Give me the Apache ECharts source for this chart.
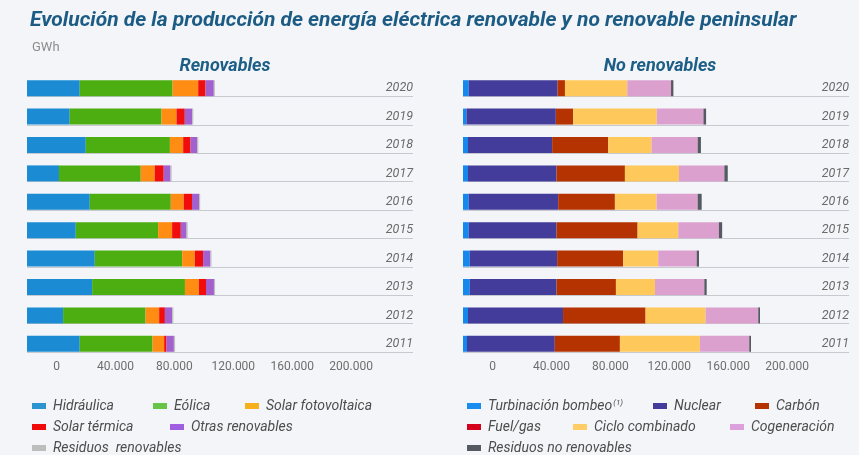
<!DOCTYPE html>
<html>
<head>
<meta charset="utf-8">
<script src="https://cdn.jsdelivr.net/npm/echarts@6/dist/echarts.min.js"></script>
<style>
  html, body { margin: 0; padding: 0; background: #f3f5f9; }
  #chart { width: 859px; height: 455px; }
</style>
</head>
<body>
<div id="chart"></div>
<script>
// Years, bottom to top
const years = ['2011', '2012', '2013', '2014', '2015', '2016', '2017', '2018', '2019', '2020'];

// Renewable generation (GWh)
const hidraulica        = [35800, 24500, 44200, 46000, 33100, 42600, 21700, 39900, 29000, 35800];
const eolica            = [49400, 56000, 63000, 59300, 55900, 55000, 55500, 57100, 62300, 63000];
const solarFotovoltaica = [7900, 9200, 9500, 8600, 9500, 8800, 9500, 9000, 10200, 17400];
const solarTermica      = [1600, 3900, 4800, 5600, 5900, 5600, 6100, 5000, 5600, 5000];
const otrasRenovables   = [5000, 5000, 5400, 5000, 3900, 4800, 4600, 4500, 5000, 5600];
const residuosRenov     = [800, 750, 750, 700, 750, 750, 750, 800, 750, 700];

// Non-renewable generation (GWh)
const turbinacionBombeo = [2700, 3400, 4600, 4600, 3900, 3900, 3400, 3400, 2300, 3900];
const nuclear           = [59600, 64500, 58900, 59300, 59600, 60700, 60100, 57100, 60700, 60300];
const carbon            = [44200, 56000, 40300, 44800, 55000, 38500, 46400, 38000, 11800, 5000];
const fuelGas           = [0, 0, 0, 0, 0, 0, 0, 0, 0, 0];
const cicloCombinado    = [54300, 40800, 26500, 23800, 27600, 28300, 36700, 29500, 56700, 42300];
const cogeneracion      = [33500, 35700, 33500, 26100, 27600, 27900, 30800, 31300, 31700, 29700];
const residuosNoRenov   = [1200, 1200, 1600, 1600, 2200, 2700, 2300, 2200, 1800, 1600];

// Axis ticks shown under each panel
const tickStep = 40000;
const tickMaxShown = 200000;

const FONT = '"Roboto", "Noto Sans", sans-serif';

const renewableSeries = [
  { name: 'Hidráulica', data: hidraulica, color: '#1b8bd4', legend: '#2e94d0' },
  { name: 'Eólica', data: eolica, color: '#4cae10', legend: '#68c446' },
  { name: 'Solar fotovoltaica', data: solarFotovoltaica, color: '#ff8d14', legend: '#f5b01c' },
  { name: 'Solar térmica', data: solarTermica, color: '#f20d0d', legend: '#f00a0a' },
  { name: 'Otras renovables', data: otrasRenovables, color: '#a360cf', legend: '#a05ee0' },
  { name: 'Residuos  renovables', data: residuosRenov, color: '#bdbdbd', legend: '#bdbdbd' }
];
const nonRenewableSeries = [
  { name: 'Turbinación bombeo', data: turbinacionBombeo, color: '#1588ee', legend: '#1a8cf0' },
  { name: 'Nuclear', data: nuclear, color: '#433c9a', legend: '#433c9a' },
  { name: 'Carbón', data: carbon, color: '#b53300', legend: '#b53300' },
  { name: 'Fuel/gas', data: fuelGas, color: '#d4001c', legend: '#d4001c' },
  { name: 'Ciclo combinado', data: cicloCombinado, color: '#ffc85a', legend: '#ffcc66' },
  { name: 'Cogeneración', data: cogeneracion, color: '#dca0cf', legend: '#dca0dc' },
  { name: 'Residuos no renovables', data: residuosNoRenov, color: '#555a62', legend: '#555a62' }
];

// Legend placement: [series name, left px, row]
const legendPlacement = [
  ['Hidráulica', 27, 0], ['Eólica', 148, 0], ['Solar fotovoltaica', 240, 0],
  ['Solar térmica', 27, 1], ['Otras renovables', 165, 1],
  ['Residuos  renovables', 27, 2],
  ['Turbinación bombeo', 462, 0], ['Nuclear', 648, 0], ['Carbón', 750, 0],
  ['Fuel/gas', 462, 1], ['Ciclo combinado', 568, 1], ['Cogeneración', 725, 1],
  ['Residuos no renovables', 462, 2]
];
const legendRowTop = [394, 415, 436];

const thousands = v => String(v).replace(/\B(?=(\d{3})+(?!\d))/g, '.');

const gridTop = 74, gridHeight = 284;
const grids = [
  { left: 27, top: gridTop, width: 386, height: gridHeight },
  { left: 463, top: gridTop, width: 386, height: gridHeight }
];
const axisMax = 262000;

function valueAxis(gridIndex) {
  return {
    type: 'value', gridIndex, min: 0, max: axisMax, interval: tickStep,
    axisLine: { show: false }, axisTick: { show: false }, splitLine: { show: false },
    axisLabel: {
      color: '#6e6e6e', fontFamily: FONT, fontSize: 12, margin: 3,
      padding: [0, 0, 0, 59],
      formatter: v => (v <= tickMaxShown ? thousands(v) : '')
    }
  };
}
function categoryAxis(gridIndex) {
  return {
    type: 'category', gridIndex, data: years, position: 'right',
    axisLine: { show: false }, axisTick: { show: false }, splitLine: { show: false },
    axisLabel: {
      inside: true, color: '#6a6a6a', fontFamily: FONT, fontStyle: 'italic',
      fontSize: 12.5, margin: 0, verticalAlign: 'middle'
    },
    z: 5
  };
}

// Thin rule under each bar row, running to the panel's right edge
function rowRules(axisIndex) {
  return {
    type: 'custom', xAxisIndex: axisIndex, yAxisIndex: axisIndex, z: 1,
    silent: true, legendHoverLink: false,
    data: years.map((y, i) => [0, i]),
    renderItem(params, api) {
      const p = api.coord([0, api.value(1)]);
      const cs = params.coordSys;
      const y = Math.round(p[1] + 8) + 0.5;
      return {
        type: 'line',
        shape: { x1: p[0], y1: y, x2: cs.x + cs.width, y2: y },
        style: { stroke: '#c6c9cf', lineWidth: 1 }
      };
    }
  };
}

function barSeries(list, axisIndex, stack) {
  return list.map(s => ({
    name: s.name, type: 'bar', stack, xAxisIndex: axisIndex, yAxisIndex: axisIndex,
    data: s.data, barWidth: 16, itemStyle: { color: s.color }, z: 3
  }));
}

const legendColor = {};
renewableSeries.concat(nonRenewableSeries).forEach(s => { legendColor[s.name] = s.legend; });

const legends = legendPlacement.map(([name, left, row]) => ({
  left, top: legendRowTop[row], selectedMode: false,
  itemWidth: 14, itemHeight: 6, itemGap: 0,
  icon: 'rect',
  data: [{ name, itemStyle: { color: legendColor[name] } }],
  formatter: n => (n === 'Turbinación bombeo' ? n + '{sup|(1)}' : n),
  textStyle: {
    color: '#4d4d4d', fontFamily: FONT, fontStyle: 'italic', fontSize: 14,
    padding: [0, 0, 0, 2],
    rich: { sup: { fontSize: 8, verticalAlign: 'top', color: '#4d4d4d', fontFamily: FONT, padding: [0, 0, 6, 1] } }
  }
}));

const option = {
  backgroundColor: '#f3f5f9',
  animation: false,
  textStyle: { fontFamily: FONT },
  title: [
    {
      text: 'Evolución de la producción de energía eléctrica renovable y no renovable peninsular',
      left: 25, top: 5,
      textStyle: { color: '#1c5c84', fontFamily: FONT, fontStyle: 'italic', fontWeight: 'bold', fontSize: 21 }
    },
    { text: 'GWh', left: 27, top: 36, textStyle: { color: '#8c8c8c', fontFamily: FONT, fontWeight: 'normal', fontSize: 13 } },
    { text: 'Renovables', left: 220, top: 52, textAlign: 'center',
      textStyle: { color: '#1d5e86', fontFamily: FONT, fontStyle: 'italic', fontWeight: 'bold', fontSize: 18 } },
    { text: 'No renovables', left: 655, top: 52, textAlign: 'center',
      textStyle: { color: '#1d5e86', fontFamily: FONT, fontStyle: 'italic', fontWeight: 'bold', fontSize: 18 } }
  ],
  legend: legends,
  grid: grids,
  xAxis: [valueAxis(0), valueAxis(1)],
  yAxis: [categoryAxis(0), categoryAxis(1)],
  series: [
    rowRules(0), rowRules(1),
    ...barSeries(renewableSeries, 0, 'renovables'),
    ...barSeries(nonRenewableSeries, 1, 'noRenovables')
  ]
};

const chart = echarts.init(document.getElementById('chart'), null, { renderer: 'canvas' });
chart.setOption(option);
</script>
</body>
</html>
